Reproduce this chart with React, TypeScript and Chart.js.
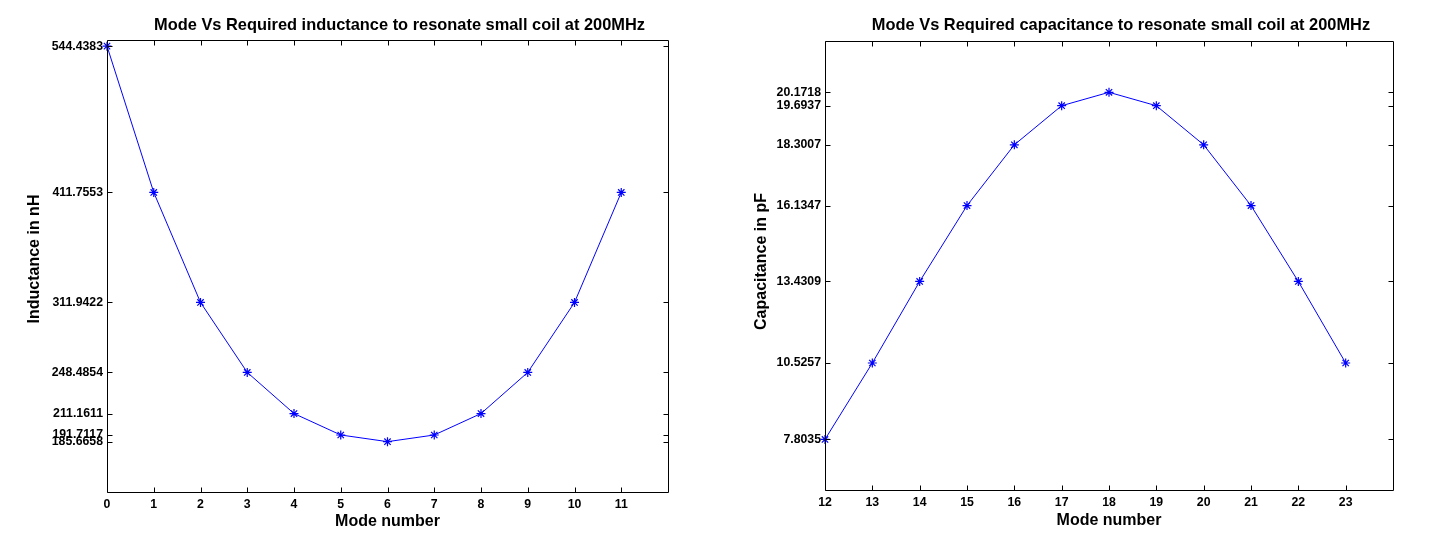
import React, { useEffect, useRef } from "react";
import { Chart, registerables } from "chart.js";

Chart.register(...registerables);

// ---- Data ----
const leftModes = [0, 1, 2, 3, 4, 5, 6, 7, 8, 9, 10, 11];
const inductance = [544.4383, 411.7553, 311.9422, 248.4854, 211.1611, 191.7117, 185.6658, 191.7117, 211.1611, 248.4854, 311.9422, 411.7553];
const leftXTicks = [0, 1, 2, 3, 4, 5, 6, 7, 8, 9, 10, 11];
const leftYTicks = [185.6658, 191.7117, 211.1611, 248.4854, 311.9422, 411.7553, 544.4383];

const rightModes = [12, 13, 14, 15, 16, 17, 18, 19, 20, 21, 22, 23];
const capacitance = [7.8035, 10.5257, 13.4309, 16.1347, 18.3007, 19.6937, 20.1718, 19.6937, 18.3007, 16.1347, 13.4309, 10.5257];
const rightXTicks = [12, 13, 14, 15, 16, 17, 18, 19, 20, 21, 22, 23];
const rightYTicks = [7.8035, 10.5257, 13.4309, 16.1347, 18.3007, 19.6937, 20.1718];

const FONT = "'Liberation Sans', Arial, sans-serif";
const BLUE = "rgb(0,0,255)";

const framePlugin = {
  id: "frame",
  afterDraw(chart: any, _args: any, opts: any) {
    const { ctx, chartArea: a } = chart;
    const xs = chart.scales.x;
    const ys = chart.scales.y;
    const L = Math.round(a.left) + 0.5;
    const R = Math.round(a.right) + 0.5;
    const T = Math.round(a.top) + 0.5;
    const B = Math.round(a.bottom) + 0.5;
    const tl = 5;
    ctx.save();
    ctx.strokeStyle = "#000";
    ctx.lineWidth = 1;
    ctx.beginPath();
    ctx.rect(L, T, R - L, B - T);
    for (const t of xs.ticks) {
      const px = Math.round(xs.getPixelForValue(t.value)) + 0.5;
      ctx.moveTo(px, B);
      ctx.lineTo(px, B - tl);
      ctx.moveTo(px, T);
      ctx.lineTo(px, T + tl);
    }
    for (const t of ys.ticks) {
      const py = Math.round(ys.getPixelForValue(t.value)) + 0.5;
      ctx.moveTo(L, py);
      ctx.lineTo(L + tl, py);
      ctx.moveTo(R, py);
      ctx.lineTo(R - tl, py);
    }
    ctx.stroke();
    ctx.fillStyle = "#000";
    // title
    ctx.font = `bold 16.4px ${FONT}`;
    ctx.textAlign = "center";
    ctx.textBaseline = "middle";
    ctx.fillText(opts.title, (a.left + a.right) / 2 + opts.titleDx, opts.titleY);
    // y axis title
    ctx.font = `bold 16px ${FONT}`;
    ctx.translate(opts.yTitleX, (a.top + a.bottom) / 2 + opts.yTitleDy);
    ctx.rotate(-Math.PI / 2);
    ctx.fillText(opts.yTitle, 0, 0);
    ctx.restore();
  },
};

type PlotProps = {
  modes: number[];
  values: number[];
  xTicks: number[];
  yTicks: number[];
  xMin: number;
  xMax: number;
  yMin: number;
  yMax: number;
  title: string;
  yTitle: string;
  yTitleX: number;
  yTitleDy: number;
  yAxisWidth: number;
  padRight: number;
  padTop: number;
  xAxisHeight: number;
  xTitlePadBottom: number;
  left: number;
};

function SubPlot(p: PlotProps) {
  const ref = useRef<HTMLCanvasElement | null>(null);
  useEffect(() => {
    if (!ref.current) return;
    const chart = new Chart(ref.current, {
      type: "line",
      data: {
        datasets: [
          {
            data: p.modes.map((m, i) => ({ x: m, y: p.values[i] })),
            borderColor: BLUE,
            backgroundColor: BLUE,
            borderWidth: 1,
            pointStyle: "star",
            pointRadius: 4.5,
            pointBorderColor: BLUE,
            pointBorderWidth: 1.2,
            pointHoverRadius: 4.5,
            tension: 0,
            fill: false,
            clip: false as any,
          },
        ],
      },
      options: {
        animation: false,
        responsive: false,
        devicePixelRatio: 1,
        events: [],
        layout: { padding: { left: 0, right: p.padRight, top: p.padTop, bottom: 0 } },
        plugins: {
          legend: { display: false },
          tooltip: { enabled: false },
          title: { display: false },
          frame: {
            title: p.title,
            titleDx: 12,
            titleY: 25,
            yTitle: p.yTitle,
            yTitleX: p.yTitleX,
            yTitleDy: p.yTitleDy,
          } as any,
        } as any,
        scales: {
          x: {
            type: "linear",
            min: p.xMin,
            max: p.xMax,
            grid: { display: false, drawTicks: false },
            border: { display: false },
            afterBuildTicks: (s: any) => {
              s.ticks = p.xTicks.map((v) => ({ value: v }));
            },
            afterFit: (s: any) => {
              s.height = p.xAxisHeight;
            },
            ticks: {
              autoSkip: false,
              maxRotation: 0,
              padding: 5,
              color: "#000",
              font: { family: FONT, size: 12.3, weight: "bold" },
              callback: (v: any) => String(v),
            },
            title: {
              display: true,
              text: "Mode number",
              color: "#000",
              font: { family: FONT, size: 16, weight: "bold" },
              padding: { top: 0, bottom: p.xTitlePadBottom },
            },
          },
          y: {
            type: "linear",
            min: p.yMin,
            max: p.yMax,
            grid: { display: false, drawTicks: false },
            border: { display: false },
            afterBuildTicks: (s: any) => {
              s.ticks = p.yTicks.map((v) => ({ value: v }));
            },
            afterFit: (s: any) => {
              s.width = p.yAxisWidth;
            },
            ticks: {
              autoSkip: false,
              padding: 4,
              color: "#000",
              font: { family: FONT, size: 12.3, weight: "bold" },
              callback: (v: any) => Number(v).toFixed(4),
            },
            title: { display: false },
          },
        },
      },
      plugins: [framePlugin as any],
    });
    return () => chart.destroy();
  }, []);
  return (
    <canvas
      ref={ref}
      width={728}
      height={558}
      style={{ position: "absolute", left: p.left, top: 0, width: 728, height: 558 }}
    />
  );
}

export default function App() {
  return (
    <div style={{ position: "fixed", left: 0, top: 0, width: 1456, height: 558, background: "#fff" }}>
      <SubPlot
        modes={leftModes}
        values={inductance}
        xTicks={leftXTicks}
        yTicks={leftYTicks}
        xMin={0}
        xMax={12}
        yMin={140}
        yMax={550}
        title="Mode Vs Required inductance to resonate small coil at 200MHz"
        yTitle="Inductance in nH"
        yTitleX={35}
        yTitleDy={-7}
        yAxisWidth={107}
        padRight={60}
        padTop={40}
        xAxisHeight={66}
        xTitlePadBottom={27}
        left={0}
      />
      <SubPlot
        modes={rightModes}
        values={capacitance}
        xTicks={rightXTicks}
        yTicks={rightYTicks}
        xMin={12}
        xMax={24}
        yMin={6}
        yMax={22}
        title="Mode Vs Required capacitance to resonate small coil at 200MHz"
        yTitle="Capacitance in pF"
        yTitleX={34}
        yTitleDy={-4}
        yAxisWidth={97}
        padRight={63}
        padTop={41}
        xAxisHeight={68}
        xTitlePadBottom={28}
        left={728}
      />
    </div>
  );
}
